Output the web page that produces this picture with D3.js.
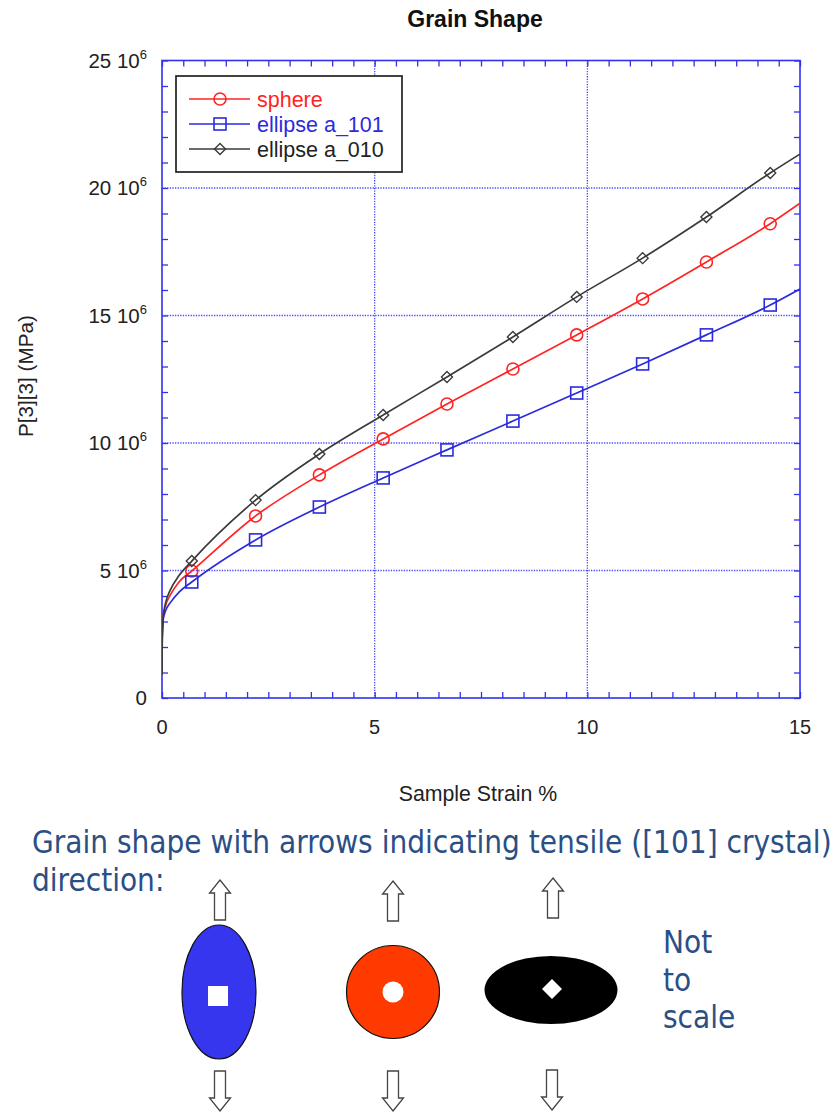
<!DOCTYPE html>
<html>
<head>
<meta charset="utf-8">
<script src="https://cdn.jsdelivr.net/npm/d3@7"></script>
<style>
  html, body { margin: 0; padding: 0; background: #fff; }
  svg { display: block; }
</style>
</head>
<body>
<svg id="chart" width="838" height="1113"></svg>
<script>
// Strain (%) at which each series carries a marker
const markerStrain = [0.7, 2.2, 3.7, 5.2, 6.7, 8.25, 9.75, 11.3, 12.8, 14.3];
// Extra strain samples describing the steep elastic start of each curve
const startStrain = [0, 0.005, 0.03, 0.08, 0.2, 0.4];
const endStrain = 15;

// P[3][3] in MPa (×10^6)
const sphereStart = [1.0, 2.3, 3.2, 3.6, 4.05, 4.55];
const sphereValues = [4.98, 7.14, 8.75, 10.16, 11.53, 12.9, 14.24, 15.65, 17.1, 18.6];
const sphereEnd = 19.4;

const ellipse101Start = [1.1, 2.4, 3.1, 3.4, 3.75, 4.15];
const ellipse101Values = [4.55, 6.2, 7.49, 8.63, 9.73, 10.86, 11.96, 13.1, 14.24, 15.41];
const ellipse101End = 16.04;

const ellipse010Start = [0.9, 2.2, 3.2, 3.7, 4.25, 4.8];
const ellipse010Values = [5.37, 7.76, 9.57, 11.1, 12.59, 14.16, 15.73, 17.25, 18.86, 20.59];
const ellipse010End = 21.33;

const seriesNames = ["sphere", "ellipse a_101", "ellipse a_010"];
const xTicks = [0, 5, 10, 15];
const yTicks = [0, 5, 10, 15, 20, 25];

const svg = d3.select("#chart");
const plot = { left: 162, right: 800, top: 60.5, bottom: 698 };
const fontChart = "'Liberation Sans', Arial, Helvetica, sans-serif";
const axisBlue = "#3030f0";

const x = d3.scaleLinear().domain([0, 15]).range([plot.left, plot.right]);
const y = d3.scaleLinear().domain([0, 25e6]).range([plot.bottom, plot.top]);

function buildSeries(start, vals, end) {
  const pts = startStrain.map((s, i) => [s, start[i] * 1e6]);
  markerStrain.forEach((s, i) => pts.push([s, vals[i] * 1e6]));
  pts.push([endStrain, end * 1e6]);
  return pts;
}

const series = [
  { name: seriesNames[0], color: "#ff2424", text: "#ff2424", marker: "circle",
    line: buildSeries(sphereStart, sphereValues, sphereEnd),
    marks: markerStrain.map((s, i) => [s, sphereValues[i] * 1e6]) },
  { name: seriesNames[1], color: "#2b2bdc", text: "#2b2bdc", marker: "square",
    line: buildSeries(ellipse101Start, ellipse101Values, ellipse101End),
    marks: markerStrain.map((s, i) => [s, ellipse101Values[i] * 1e6]) },
  { name: seriesNames[2], color: "#3a3a3a", text: "#222", marker: "diamond",
    line: buildSeries(ellipse010Start, ellipse010Values, ellipse010End),
    marks: markerStrain.map((s, i) => [s, ellipse010Values[i] * 1e6]) }
];

// Title
svg.append("text")
  .attr("x", 475).attr("y", 27)
  .attr("text-anchor", "middle")
  .attr("font-family", fontChart)
  .attr("font-weight", "bold")
  .attr("font-size", 23)
  .attr("fill", "#111")
  .text("Grain Shape");

// Dotted grid at the major ticks
const grid = svg.append("g")
  .attr("stroke", "#4a4aff")
  .attr("stroke-width", 1.3)
  .attr("stroke-dasharray", "1.3,1.3");
xTicks.filter(v => v > 0 && v < 15).forEach(v => {
  grid.append("line").attr("x1", x(v)).attr("x2", x(v))
    .attr("y1", plot.top).attr("y2", plot.bottom);
});
yTicks.filter(v => v > 0 && v < 25).forEach(v => {
  grid.append("line").attr("x1", plot.left).attr("x2", plot.right)
    .attr("y1", y(v * 1e6)).attr("y2", y(v * 1e6));
});

// Inward tick marks on all four sides through d3 axes
const plotW = plot.right - plot.left, plotH = plot.bottom - plot.top;
const minorX = d3.range(0, 15.01, 0.5);
const minorY = d3.range(0, 25.01e6, 1e6);
function styleAxis(g) {
  g.select(".domain").remove();
  g.selectAll(".tick line").attr("stroke", axisBlue).attr("stroke-width", 1.3);
  g.selectAll(".tick text").remove();
}
svg.append("g").attr("transform", `translate(0,${plot.bottom})`)
  .call(d3.axisTop(x).tickValues(minorX).tickSize(6)).call(styleAxis);
svg.append("g").attr("transform", `translate(0,${plot.top})`)
  .call(d3.axisBottom(x).tickValues(minorX).tickSize(6)).call(styleAxis);
svg.append("g").attr("transform", `translate(${plot.left},0)`)
  .call(d3.axisRight(y).tickValues(minorY).tickSize(6)).call(styleAxis);
svg.append("g").attr("transform", `translate(${plot.right},0)`)
  .call(d3.axisLeft(y).tickValues(minorY).tickSize(6)).call(styleAxis);

// Frame
svg.append("rect")
  .attr("x", plot.left).attr("y", plot.top)
  .attr("width", plotW).attr("height", plotH)
  .attr("fill", "none").attr("stroke", axisBlue).attr("stroke-width", 1.6);

// Tick labels
const xLab = svg.append("g").attr("font-family", fontChart).attr("font-size", 20).attr("fill", "#222");
xTicks.forEach(v => {
  xLab.append("text").attr("x", x(v)).attr("y", plot.bottom + 36)
    .attr("text-anchor", "middle").text(v);
});
const yLab = svg.append("g").attr("font-family", fontChart).attr("font-size", 20.5).attr("fill", "#222");
yTicks.forEach(v => {
  const t = yLab.append("text").attr("x", 147).attr("y", y(v * 1e6) + 7)
    .attr("text-anchor", "end");
  if (v === 0) { t.text("0"); return; }
  t.append("tspan").text(v + " 10");
  t.append("tspan").attr("font-size", 13).attr("dy", -9).text("6");
});

// Axis titles
svg.append("text")
  .attr("x", 478).attr("y", 801)
  .attr("text-anchor", "middle")
  .attr("font-family", fontChart).attr("font-size", 21.3).attr("fill", "#222")
  .text("Sample Strain %");
svg.append("text")
  .attr("transform", `translate(33,376) rotate(-90)`)
  .attr("text-anchor", "middle")
  .attr("font-family", fontChart).attr("font-size", 20.7).attr("fill", "#222")
  .text("P[3][3] (MPa)");

// Curves
const lineGen = d3.line().x(d => x(d[0])).y(d => y(d[1])).curve(d3.curveMonotoneX);
svg.append("clipPath").attr("id", "plotClip").append("rect")
  .attr("x", plot.left).attr("y", plot.top).attr("width", plotW).attr("height", plotH);
const curves = svg.append("g").attr("clip-path", "url(#plotClip)");

function drawMarker(g, kind, cx, cy, color) {
  if (kind === "circle") {
    g.append("circle").attr("cx", cx).attr("cy", cy).attr("r", 6)
      .attr("fill", "none").attr("stroke", color).attr("stroke-width", 1.6);
  } else if (kind === "square") {
    g.append("rect").attr("x", cx - 6).attr("y", cy - 6).attr("width", 12).attr("height", 12)
      .attr("fill", "none").attr("stroke", color).attr("stroke-width", 1.6);
  } else {
    g.append("path")
      .attr("d", `M${cx},${cy - 5.5}L${cx + 5.5},${cy}L${cx},${cy + 5.5}L${cx - 5.5},${cy}Z`)
      .attr("fill", "none").attr("stroke", color).attr("stroke-width", 1.4);
  }
}

series.forEach(s => {
  curves.append("path").datum(s.line)
    .attr("d", lineGen)
    .attr("fill", "none").attr("stroke", s.color).attr("stroke-width", 1.7);
  const mg = curves.append("g");
  s.marks.forEach(d => drawMarker(mg, s.marker, x(d[0]), y(d[1]), s.color));
});

// Legend
const legend = svg.append("g");
legend.append("rect")
  .attr("x", 176).attr("y", 76).attr("width", 226).attr("height", 96)
  .attr("fill", "#fff").attr("stroke", "#222").attr("stroke-width", 1.7);
series.forEach((s, i) => {
  const ly = 99 + i * 25;
  legend.append("line").attr("x1", 189).attr("x2", 250).attr("y1", ly).attr("y2", ly)
    .attr("stroke", s.color).attr("stroke-width", 1.7);
  drawMarker(legend, s.marker, 220, ly, s.color);
  legend.append("text").attr("x", 257).attr("y", ly + 7.5)
    .attr("font-family", fontChart).attr("font-size", 21.5)
    .attr("fill", s.text)
    .text(s.name);
});

// Illustration of the three grain shapes under tension
const noteFont = "'DejaVu Sans Condensed', 'DejaVu Sans', Tahoma, sans-serif";
const noteColor = "#2b4f85";

function fitWidth(sel, target) {
  const w = sel.node().getComputedTextLength();
  const fs = parseFloat(sel.attr("font-size"));
  sel.attr("font-size", fs * target / w);
}

const l1 = svg.append("text").attr("x", 32).attr("y", 853)
  .attr("font-family", noteFont).attr("font-size", 28).attr("fill", noteColor)
  .text("Grain shape with arrows indicating tensile ([101] crystal)");
fitWidth(l1, 800);
svg.append("text").attr("x", 32).attr("y", 891)
  .attr("font-family", noteFont).attr("font-size", l1.attr("font-size")).attr("fill", noteColor)
  .text("direction:");

["Not", "to", "scale"].forEach((w, i) => {
  svg.append("text").attr("x", 663).attr("y", 953 + i * 37.5)
    .attr("font-family", noteFont).attr("font-size", l1.attr("font-size")).attr("fill", noteColor)
    .text(w);
});

function arrow(cx, top, dir) {
  const h = 40, hw = 10.5, hh = 13, sw = 5.5;
  let d;
  if (dir === "up") {
    d = `M${cx},${top}L${cx + hw},${top + hh}L${cx + sw},${top + hh}L${cx + sw},${top + h}` +
        `L${cx - sw},${top + h}L${cx - sw},${top + hh}L${cx - hw},${top + hh}Z`;
  } else {
    const b = top + h;
    d = `M${cx},${b}L${cx + hw},${b - hh}L${cx + sw},${b - hh}L${cx + sw},${top}` +
        `L${cx - sw},${top}L${cx - sw},${b - hh}L${cx - hw},${b - hh}Z`;
  }
  svg.append("path").attr("d", d).attr("fill", "#fff")
    .attr("stroke", "#444").attr("stroke-width", 1.3).attr("stroke-linejoin", "miter");
}

// elongated grain (a_101)
arrow(220, 880, "up");
svg.append("ellipse").attr("cx", 219).attr("cy", 992).attr("rx", 37).attr("ry", 67)
  .attr("fill", "#3636ee").attr("stroke", "#111").attr("stroke-width", 1.2);
svg.append("rect").attr("x", 208).attr("y", 986).attr("width", 20).attr("height", 20).attr("fill", "#fff");
arrow(220, 1071, "down");

// spherical grain
arrow(393, 881, "up");
svg.append("circle").attr("cx", 393).attr("cy", 992).attr("r", 46.5)
  .attr("fill", "#ff3a00").attr("stroke", "#111").attr("stroke-width", 1.2);
svg.append("circle").attr("cx", 393).attr("cy", 992).attr("r", 10.5).attr("fill", "#fff");
arrow(393, 1071, "down");

// flattened grain (a_010)
arrow(553, 878, "up");
svg.append("ellipse").attr("cx", 551).attr("cy", 990).attr("rx", 66.5).attr("ry", 34)
  .attr("fill", "#000");
svg.append("path").attr("d", "M552,979L562,989L552,999L542,989Z").attr("fill", "#fff");
arrow(552, 1070, "down");
</script>
</body>
</html>
